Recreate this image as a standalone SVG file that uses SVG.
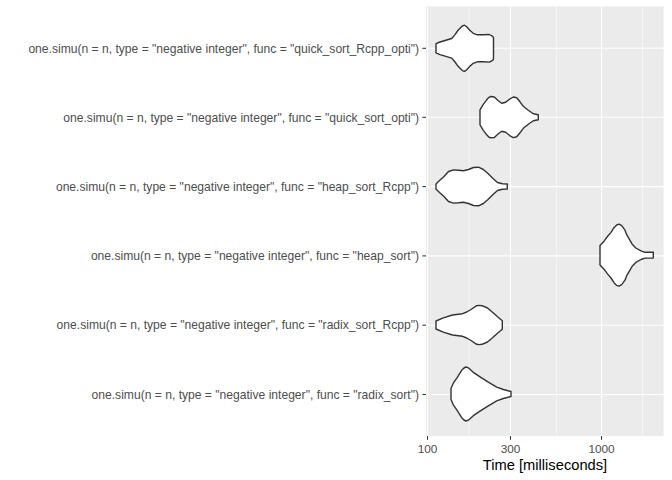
<svg xmlns="http://www.w3.org/2000/svg" width="672" height="480" viewBox="0 0 672 480">
<style>
.major{stroke:#FFFFFF;stroke-width:1.07;fill:none}
.minor{stroke:#FFFFFF;stroke-width:0.53;fill:none}
.tick{stroke:#333333;stroke-width:1.07;fill:none}
.ylab{font-family:"Liberation Sans",Arial,sans-serif;font-size:12.1px;fill:#4D4D4D;text-anchor:end}
.xlab{font-family:"Liberation Sans",Arial,sans-serif;font-size:11.8px;fill:#4D4D4D;text-anchor:middle}
.title{font-family:"Liberation Sans",Arial,sans-serif;font-size:14.7px;fill:#000000;text-anchor:middle}
.violin{fill:#FFFFFF;stroke:#333333;stroke-width:1.4;stroke-linejoin:round}
</style>
<rect width="672" height="480" fill="#FFFFFF"/>
<g id="panel">
<rect x="426" y="6.4" width="237.6" height="429.7" fill="#EBEBEB"/>
<line class="minor" x1="469.2" y1="6.4" x2="469.2" y2="436.1"/>
<line class="minor" x1="556.5" y1="6.4" x2="556.5" y2="436.1"/>
<line class="minor" x1="642.5" y1="6.4" x2="642.5" y2="436.1"/>
<line class="major" x1="427.5" y1="6.4" x2="427.5" y2="436.1"/>
<line class="major" x1="510.5" y1="6.4" x2="510.5" y2="436.1"/>
<line class="major" x1="601.5" y1="6.4" x2="601.5" y2="436.1"/>
<line class="major" x1="426" y1="48.3" x2="663.6" y2="48.3"/>
<line class="major" x1="426" y1="117.3" x2="663.6" y2="117.3"/>
<line class="major" x1="426" y1="186.6" x2="663.6" y2="186.6"/>
<line class="major" x1="426" y1="255.9" x2="663.6" y2="255.9"/>
<line class="major" x1="426" y1="325.2" x2="663.6" y2="325.2"/>
<line class="major" x1="426" y1="394.5" x2="663.6" y2="394.5"/>
</g>
<g id="violin-quick_sort_Rcpp_opti">
<polygon class="violin" points="436,43.6 440,42 445,40.5 451.7,38.5 455,34.6 458.3,30 462.3,26 464.5,25.2 466.7,26.8 470,30.5 473.3,33.3 477.3,34.8 483.3,34.8 489.3,34.5 492.7,36.3 493.5,37.8 493.5,58.8 492.7,60.3 489.3,62.1 483.3,61.8 477.3,61.8 473.3,63.3 470,66.1 466.7,69.8 464.5,71.4 462.3,70.6 458.3,66.6 455,62 451.7,58.1 445,56.1 440,54.6 436,52.9"/>
</g>
<g id="violin-quick_sort_opti">
<polygon class="violin" points="480,109.8 483.3,104.3 486.7,99.8 489,97.3 491,96.5 494.3,97 498.3,100.8 501.7,103.3 505.7,102.3 510,98.8 513.3,97 516.7,97.8 520,101.8 523.3,106.3 528.3,110.3 533.3,113.8 538.3,114.8 538.3,119.8 533.3,120.8 528.3,124.3 523.3,128.3 520,132.8 516.7,136.8 513.3,137.6 510,135.8 505.7,132.3 501.7,131.3 498.3,133.8 494.3,137.6 491,137.8 489,137.3 486.7,134.8 483.3,130.3 480,124.8"/>
</g>
<g id="violin-heap_sort_Rcpp">
<polygon class="violin" points="436,184 439.5,180.5 444,176.5 448.5,171.5 453.5,169.9 458.5,170.2 463.5,170.7 468.5,169.5 473.5,167.5 478.5,167.2 483.3,169.5 488,173.5 493,178.5 497.5,182.5 502.5,183.7 507.3,184 507.3,189 502.5,189.3 497.5,190.5 493,194.5 488,199.5 483.3,203.5 478.5,205.8 473.5,205.5 468.5,203.5 463.5,202.3 458.5,202.8 453.5,203.1 448.5,201.5 444,196.5 439.5,192.5 436,189"/>
</g>
<g id="violin-heap_sort">
<polygon class="violin" points="600,245.5 604,241.2 607.5,236.5 611,232.4 614,227.7 616.7,225 619,224.2 621.7,225.7 625,230.2 626.7,234.7 629,238.6 632,243.9 635.8,248 641,250.9 645,252.3 653.3,252.3 653.3,258.1 645,258.1 641,259.5 635.8,262.4 632,266.5 629,271.8 626.7,275.7 625,280.2 621.7,284.7 619,286.2 616.7,285.4 614,282.7 611,278 607.5,273.9 604,269.2 600,264.9"/>
</g>
<g id="violin-radix_sort_Rcpp">
<polygon class="violin" points="436,321 443.3,317.8 452.5,315 462.5,313.7 466.7,312 471,309.5 476.7,305.7 479,305.4 482,305.7 487.5,308 492.5,312.2 497.5,316.7 502.3,320.7 502.3,329.3 497.5,333.3 492.5,337.8 487.5,342 482,344.3 479,344.6 476.7,344.3 471,340.5 466.7,338 462.5,336.3 452.5,335 443.3,332.2 436,329"/>
</g>
<g id="violin-radix_sort">
<polygon class="violin" points="451,388.5 453.3,383.2 457.3,377.3 461.7,370.3 464,368 466,367 468.3,367.8 473.3,372.3 480,376.8 488.3,382.2 496.7,387.2 503.3,389.5 511,391.5 511,396.5 503.3,398.5 496.7,400.8 488.3,405.8 480,411.2 473.3,415.7 468.3,420.2 466,421 464,420 461.7,417.7 457.3,410.7 453.3,404.8 451,399.5"/>
</g>
<g id="axes">
<line class="tick" x1="422.4" y1="48.3" x2="426" y2="48.3"/>
<line class="tick" x1="422.4" y1="117.3" x2="426" y2="117.3"/>
<line class="tick" x1="422.4" y1="186.6" x2="426" y2="186.6"/>
<line class="tick" x1="422.4" y1="255.9" x2="426" y2="255.9"/>
<line class="tick" x1="422.4" y1="325.2" x2="426" y2="325.2"/>
<line class="tick" x1="422.4" y1="394.5" x2="426" y2="394.5"/>
<line class="tick" x1="427.5" y1="436.1" x2="427.5" y2="439.8"/>
<line class="tick" x1="510.5" y1="436.1" x2="510.5" y2="439.8"/>
<line class="tick" x1="601.5" y1="436.1" x2="601.5" y2="439.8"/>
<text class="ylab" x="419" y="52.5">one.simu(n = n, type = "negative integer", func = "quick_sort_Rcpp_opti")</text>
<text class="ylab" x="419" y="121.5">one.simu(n = n, type = "negative integer", func = "quick_sort_opti")</text>
<text class="ylab" x="419" y="190.8">one.simu(n = n, type = "negative integer", func = "heap_sort_Rcpp")</text>
<text class="ylab" x="419" y="260.1">one.simu(n = n, type = "negative integer", func = "heap_sort")</text>
<text class="ylab" x="419" y="329.4">one.simu(n = n, type = "negative integer", func = "radix_sort_Rcpp")</text>
<text class="ylab" x="419" y="398.7">one.simu(n = n, type = "negative integer", func = "radix_sort")</text>
<text class="xlab" x="427.5" y="452.5">100</text>
<text class="xlab" x="510.5" y="452.5">300</text>
<text class="xlab" x="601.5" y="452.5">1000</text>
<text class="title" x="545" y="470">Time [milliseconds]</text>
</g>
</svg>
